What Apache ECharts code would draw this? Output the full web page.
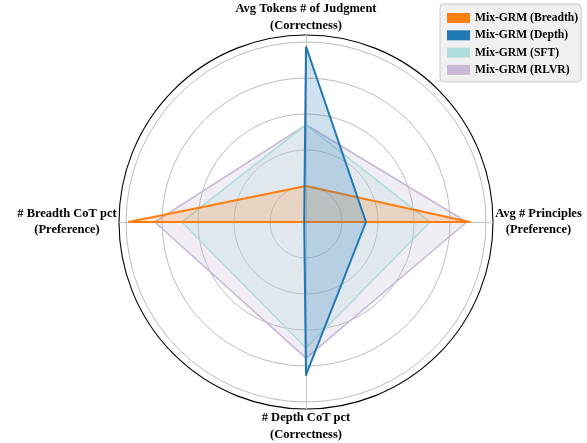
<!DOCTYPE html>
<html lang="en">
<head>
    <meta charset="UTF-8">
    <title>Mix-GRM radar</title>
    <style>
        html, body { margin: 0; padding: 0; background: #fff; }
        .mychart { width: 587px; height: 443px; }
    </style>
</head>
<body>
    <div class="mychart"></div>
</body>
<script src="https://cdn.jsdelivr.net/npm/echarts@6/dist/echarts.min.js"></script>
<script>
    // axes, counter-clockwise from the top
    const axisNames = [
        'Avg Tokens # of Judgment\n(Correctness)',
        '# Breadth CoT pct\n(Preference)',
        '# Depth CoT pct\n(Correctness)',
        'Avg # Principles\n(Preference)'
    ]
    const seriesNames = ['Mix-GRM (Breadth)', 'Mix-GRM (Depth)', 'Mix-GRM (SFT)', 'Mix-GRM (RLVR)']
    // normalised values, same order as axisNames
    const breadthVals = [0.20, 0.985, 0.0, 0.91]
    const depthVals = [0.975, 0.01, 0.85, 0.333]
    const sftVals = [0.54, 0.69, 0.70, 0.69]
    const rlvrVals = [0.54, 0.84, 0.756, 0.893]
    const colors = ['#ff7f0e', '#1f77b4', '#b0dcdc', '#c9b8d8']

    const font = 'bold 12.5px "Liberation Serif"'
    const ctx = document.createElement('canvas').getContext('2d')
    ctx.font = font

    // one rich style per label so both lines are centred on each other
    const rich = {}
    axisNames.forEach((n, i) => {
        const w = Math.max(...n.split('\n').map(s => ctx.measureText(s).width))
        rich['n' + i] = { width: Math.ceil(w) + 2, align: 'center', fontSize: 12.5, lineHeight: 16.5,
            fontWeight: 'bold', fontFamily: 'Liberation Serif', color: '#000' }
    })

    const myChart = echarts.init(document.querySelector('.mychart'))
    const center = [306, 222]

    const config = {
        animation: false,
        legend: {
            orient: 'vertical',
            left: 440,
            top: 4,
            data: seriesNames,
            icon: 'rect',
            itemWidth: 23,
            itemHeight: 10,
            itemGap: 5.3,
            padding: [8, 3, 6, 7],
            backgroundColor: '#f0f0f0',
            borderColor: '#c8c8c8',
            borderWidth: 1,
            borderRadius: 4,
            textStyle: { fontFamily: 'Liberation Serif', fontWeight: 'bold', fontSize: 11.6, lineHeight: 10, color: '#000' }
        },
        radar: [{
            // outer frame + axis spokes + names
            center: center,
            radius: 187,
            startAngle: 90,
            shape: 'circle',
            splitNumber: 1,
            indicator: axisNames.map(n => ({ name: n, min: 0, max: 1.04 })),
            nameGap: 1,
            axisName: {
                formatter: (name) => {
                    const i = axisNames.indexOf(name)
                    return name.split('\n').map(s => '{n' + i + '|' + s + '}').join('\n')
                },
                rich: rich
            },
            axisLine: { lineStyle: { color: '#c4c4c4', width: 1 } },
            splitLine: { lineStyle: { color: '#000', width: 1.1 } },
            splitArea: { show: false },
            axisTick: { show: false },
            axisLabel: { show: false }
        }, {
            // grid rings 0.2 .. 1.0
            center: center,
            radius: 180,
            startAngle: 90,
            shape: 'circle',
            splitNumber: 5,
            indicator: axisNames.map(n => ({ name: '', min: 0, max: 1 })),
            axisName: { show: false },
            axisLine: { show: false },
            splitLine: { lineStyle: { color: '#b4b4b4', width: 0.9 } },
            splitArea: { show: false },
            axisTick: { show: false },
            axisLabel: { show: false }
        }],
        series: [
            {
                type: 'radar', radarIndex: 1, name: seriesNames[3], symbol: 'none', z: 2,
                itemStyle: { color: colors[3] },
                lineStyle: { color: colors[3], width: 1.6 },
                areaStyle: { color: colors[3], opacity: 0.25 },
                data: [{ value: rlvrVals, name: seriesNames[3] }]
            },
            {
                type: 'radar', radarIndex: 1, name: seriesNames[2], symbol: 'none', z: 3,
                itemStyle: { color: colors[2] },
                lineStyle: { color: colors[2], width: 1.6 },
                areaStyle: { color: colors[2], opacity: 0.25 },
                data: [{ value: sftVals, name: seriesNames[2] }]
            },
            {
                type: 'radar', radarIndex: 1, name: seriesNames[0], symbol: 'none', z: 4,
                itemStyle: { color: colors[0] },
                lineStyle: { color: colors[0], width: 2 },
                areaStyle: { color: colors[0], opacity: 0.2 },
                data: [{ value: breadthVals, name: seriesNames[0] }]
            },
            {
                type: 'radar', radarIndex: 1, name: seriesNames[1], symbol: 'none', z: 5,
                itemStyle: { color: colors[1] },
                lineStyle: { color: colors[1], width: 2 },
                areaStyle: { color: colors[1], opacity: 0.22 },
                data: [{ value: depthVals, name: seriesNames[1] }]
            }
        ]
    }
    myChart.setOption(config)
</script>
</html>
